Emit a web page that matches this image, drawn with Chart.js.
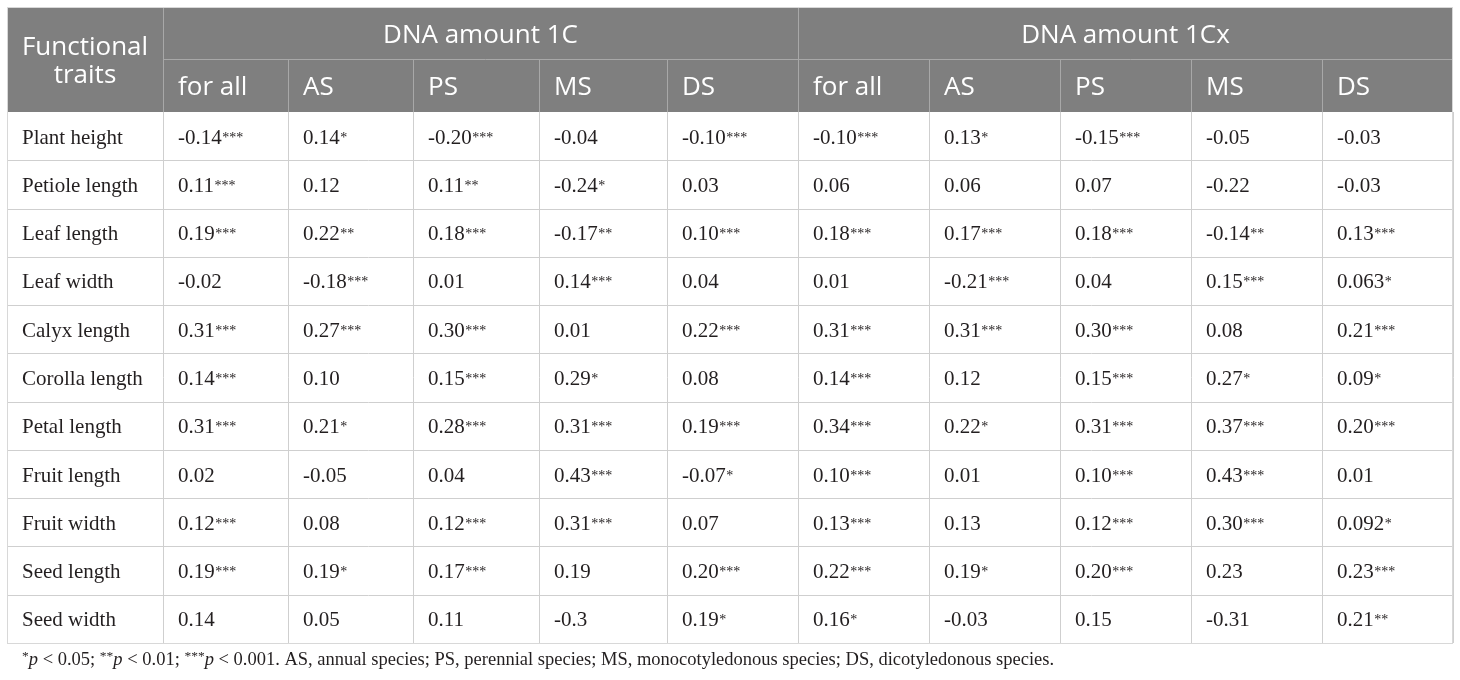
<!DOCTYPE html>
<html>
<head>
<meta charset="utf-8">
<script src="https://cdn.jsdelivr.net/npm/chart.js@4/dist/chart.umd.min.js"></script>
<style>
  html, body { margin: 0; padding: 0; background: #fff; }
  #wrap { width: 1460px; height: 680px; }
</style>
</head>
<body>
<div id="wrap"><canvas id="table"></canvas></div>
<script>
// Data of the table
const traits = ['Plant height', 'Petiole length', 'Leaf length', 'Leaf width', 'Calyx length',
  'Corolla length', 'Petal length', 'Fruit length', 'Fruit width', 'Seed length', 'Seed width'];
const groups = ['DNA amount 1C', 'DNA amount 1Cx'];
const subgroups = ['for all', 'AS', 'PS', 'MS', 'DS'];
const firstHeader = ['Functional', 'traits'];

// rows = traits, columns = subgroups
const dna1C = [
  ['-0.14***', '0.14*', '-0.20***', '-0.04', '-0.10***'],
  ['0.11***', '0.12', '0.11**', '-0.24*', '0.03'],
  ['0.19***', '0.22**', '0.18***', '-0.17**', '0.10***'],
  ['-0.02', '-0.18***', '0.01', '0.14***', '0.04'],
  ['0.31***', '0.27***', '0.30***', '0.01', '0.22***'],
  ['0.14***', '0.10', '0.15***', '0.29*', '0.08'],
  ['0.31***', '0.21*', '0.28***', '0.31***', '0.19***'],
  ['0.02', '-0.05', '0.04', '0.43***', '-0.07*'],
  ['0.12***', '0.08', '0.12***', '0.31***', '0.07'],
  ['0.19***', '0.19*', '0.17***', '0.19', '0.20***'],
  ['0.14', '0.05', '0.11', '-0.3', '0.19*']
];
const dna1Cx = [
  ['-0.10***', '0.13*', '-0.15***', '-0.05', '-0.03'],
  ['0.06', '0.06', '0.07', '-0.22', '-0.03'],
  ['0.18***', '0.17***', '0.18***', '-0.14**', '0.13***'],
  ['0.01', '-0.21***', '0.04', '0.15***', '0.063*'],
  ['0.31***', '0.31***', '0.30***', '0.08', '0.21***'],
  ['0.14***', '0.12', '0.15***', '0.27*', '0.09*'],
  ['0.34***', '0.22*', '0.31***', '0.37***', '0.20***'],
  ['0.10***', '0.01', '0.10***', '0.43***', '0.01'],
  ['0.13***', '0.13', '0.12***', '0.30***', '0.092*'],
  ['0.22***', '0.19*', '0.20***', '0.23', '0.23***'],
  ['0.16*', '-0.03', '0.15', '-0.31', '0.21**']
];

// Footnote, split into pieces: [text, style]
const footnote = [
  ['*', 'sup'], ['p', 'it'], [' < 0.05; ', ''],
  ['**', 'sup'], ['p', 'it'], [' < 0.01; ', ''],
  ['***', 'sup'], ['p', 'it'],
  [' < 0.001. AS, annual species; PS, perennial species; MS, monocotyledonous species; DS, dicotyledonous species.', '']
];

// Mise en page (relative column widths, colours, fonts)
const colWeights = [125, 125, 126, 128, 131, 131, 131, 131, 131, 131];
const headFill = '#7f7f7f';
const headLine = '#a8a8a8';
const bodyLine = '#cfcfcf';
const textColor = '#231f20';
const headFont = '26px "Open Sans"';
const bodyFont = '21px "Liberation Serif"';
const starFont = '14px "Liberation Serif"';
const noteSize = 18.5;
const tableLeft = 7;
const tableTop = 7;
const headSplit = 59;

// Column edges in scale units
const colEdges = [0];
colWeights.forEach(w => colEdges.push(colEdges[colEdges.length - 1] + w));
const allValues = [dna1C, dna1Cx];

// Points: one per cell, placed through the scales
const datasets = groups.map((g, gi) => ({
  label: g,
  pointRadius: 0,
  data: traits.flatMap((t, r) => subgroups.map((s, c) => {
    const col = gi * subgroups.length + c;
    return { x: colEdges[col], y: r + 0.5, text: allValues[gi][r][c] };
  }))
}));

// Draw a value with its stars a bit smaller and raised
function drawValue(ctx, txt, x, y) {
  const m = txt.match(/^([^*]*)(\**)$/);
  ctx.font = bodyFont;
  ctx.fillText(m[1], x, y);
  if (m[2]) {
    const w = ctx.measureText(m[1]).width;
    ctx.font = starFont;
    ctx.fillText(m[2], x + w + 0.5, y - 2);
  }
}

const tablePlugin = {
  id: 'tablePlugin',
  beforeDatasetsDraw(chart) {
    const ctx = chart.ctx;
    const xs = chart.scales.x, ys = chart.scales.y;
    const area = chart.chartArea;
    const right = area.right;
    const bottom = ys.getPixelForValue(traits.length);
    const headBottom = area.top;

    ctx.save();
    // header fill
    ctx.fillStyle = headFill;
    ctx.fillRect(tableLeft, tableTop, right - tableLeft, headBottom - tableTop);

    // header lines
    ctx.strokeStyle = headLine;
    ctx.lineWidth = 1;
    ctx.beginPath();
    ctx.moveTo(xs.getPixelForValue(0), headSplit + 0.5);
    ctx.lineTo(right, headSplit + 0.5);
    colEdges.forEach((e, i) => {
      if (i === colEdges.length - 1) return;
      const px = Math.round(xs.getPixelForValue(e)) + 0.5;
      const top = (i % subgroups.length === 0) ? tableTop : headSplit;
      ctx.moveTo(px, top);
      ctx.lineTo(px, headBottom);
    });
    ctx.stroke();

    // body grid
    ctx.strokeStyle = bodyLine;
    ctx.beginPath();
    for (let r = 1; r <= traits.length; r++) {
      const py = Math.round(ys.getPixelForValue(r)) + 0.5;
      ctx.moveTo(tableLeft, py);
      ctx.lineTo(right, py);
    }
    colEdges.forEach(e => {
      const px = Math.round(xs.getPixelForValue(e)) + 0.5;
      ctx.moveTo(px, headBottom);
      ctx.lineTo(px, bottom);
    });
    ctx.moveTo(tableLeft + 0.5, headBottom);
    ctx.lineTo(tableLeft + 0.5, bottom);
    ctx.stroke();
    // outer border
    ctx.strokeStyle = '#d8d8d8';
    ctx.strokeRect(tableLeft + 0.5, tableTop + 0.5, right - tableLeft - 1, bottom - tableTop);

    // header texts
    ctx.fillStyle = '#ffffff';
    ctx.font = headFont;
    ctx.textBaseline = 'alphabetic';
    ctx.textAlign = 'center';
    const firstCx = (tableLeft + xs.getPixelForValue(0)) / 2;
    ctx.fillText(firstHeader[0], firstCx, 55);
    ctx.fillText(firstHeader[1], firstCx, 83);
    groups.forEach((g, gi) => {
      const a = xs.getPixelForValue(colEdges[gi * subgroups.length]);
      const b = xs.getPixelForValue(colEdges[(gi + 1) * subgroups.length]);
      ctx.fillText(g, (a + b) / 2, 43);
    });
    ctx.textAlign = 'left';
    groups.forEach((g, gi) => {
      subgroups.forEach((s, c) => {
        const px = xs.getPixelForValue(colEdges[gi * subgroups.length + c]);
        ctx.fillText(s, px + 15, 95);
      });
    });

    // first column labels
    ctx.fillStyle = textColor;
    ctx.font = bodyFont;
    traits.forEach((t, r) => {
      ctx.fillText(t, tableLeft + 15, ys.getPixelForValue(r + 0.5) + 7.5);
    });

    // footnote
    let fx = tableLeft + 15;
    const fy = bottom + 22;
    footnote.forEach(([txt, style]) => {
      if (style === 'sup') {
        ctx.font = (noteSize - 5) + 'px "Liberation Serif"';
        ctx.fillText(txt, fx, fy - 5);
      } else if (style === 'it') {
        ctx.font = 'italic ' + noteSize + 'px "Liberation Serif"';
        ctx.fillText(txt, fx, fy);
      } else {
        ctx.font = noteSize + 'px "Liberation Serif"';
        ctx.fillText(txt, fx, fy);
      }
      fx += ctx.measureText(txt).width;
    });
    ctx.restore();
  },
  afterDatasetsDraw(chart) {
    const ctx = chart.ctx;
    ctx.save();
    ctx.fillStyle = textColor;
    ctx.textAlign = 'left';
    ctx.textBaseline = 'alphabetic';
    chart.data.datasets.forEach((ds, di) => {
      const meta = chart.getDatasetMeta(di);
      meta.data.forEach((pt, i) => {
        drawValue(ctx, ds.data[i].text, pt.x + 15, pt.y + 7.5);
      });
    });
    ctx.restore();
  }
};

const chart = new Chart(document.getElementById('table').getContext('2d'), {
  type: 'scatter',
  data: { datasets: datasets },
  options: {
    responsive: true,
    maintainAspectRatio: false,
    animation: false,
    layout: { padding: { top: 112, left: 163, right: 7, bottom: 37 } },
    scales: {
      x: { type: 'linear', display: false, min: 0, max: colEdges[colEdges.length - 1] },
      y: { type: 'linear', display: false, min: 0, max: traits.length, reverse: true }
    },
    plugins: {
      legend: { display: false },
      tooltip: { enabled: false }
    }
  },
  plugins: [tablePlugin]
});
</script>
</body>
</html>
